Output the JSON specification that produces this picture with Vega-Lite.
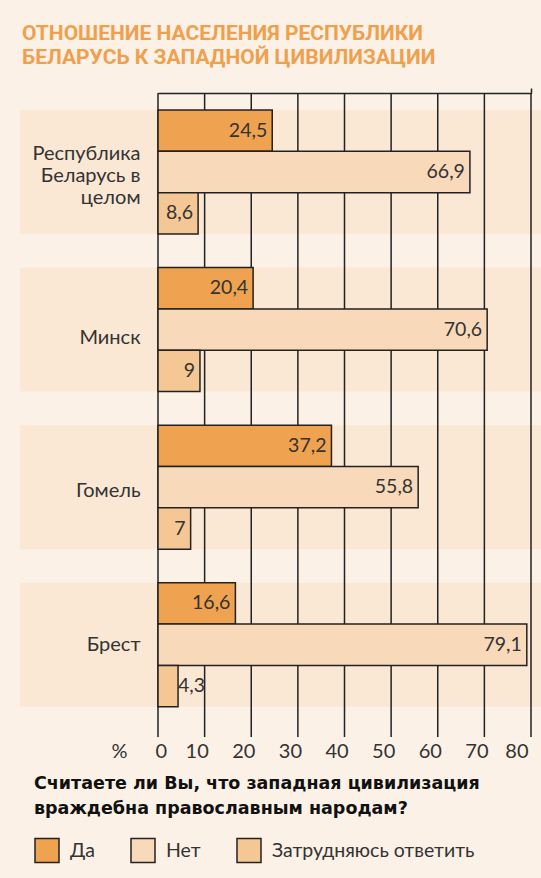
{
  "$schema": "https://vega.github.io/schema/vega-lite/v6.json",
  "width": 373,
  "height": 644,
  "autosize": {"type": "none"},
  "padding": {"left": 158, "top": 93, "right": 10, "bottom": 141},
  "background": "#FCF1E6",
  "title": {
    "text": ["ОТНОШЕНИЕ НАСЕЛЕНИЯ РЕСПУБЛИКИ", "БЕЛАРУСЬ К ЗАПАДНОЙ ЦИВИЛИЗАЦИИ"],
    "anchor": "start",
    "frame": "group",
    "dx": -136,
    "offset": 19,
    "font": "Roboto",
    "fontSize": 21,
    "fontWeight": "bold",
    "color": "#EFA04E",
    "lineHeight": 24
  },
  "config": {
    "locale": {"number": {"decimal": ",", "thousands": "\u00a0", "grouping": [3], "currency": ["", ""]}},
    "view": {"stroke": null},
    "font": "Lato",
    "axis": {"labelFont": "Lato", "titleFont": "Lato"},
    "legend": {"labelFont": "Lato", "titleFont": "DejaVu Sans"}
  },
  "datasets": {
    "bars": [
      {"region": "Республика Беларусь в целом", "answer": "Да", "v": 24.5},
      {"region": "Республика Беларусь в целом", "answer": "Нет", "v": 66.9},
      {"region": "Республика Беларусь в целом", "answer": "Затрудняюсь ответить", "v": 8.6},
      {"region": "Минск", "answer": "Да", "v": 20.4},
      {"region": "Минск", "answer": "Нет", "v": 70.6},
      {"region": "Минск", "answer": "Затрудняюсь ответить", "v": 9},
      {"region": "Гомель", "answer": "Да", "v": 37.2},
      {"region": "Гомель", "answer": "Нет", "v": 55.8},
      {"region": "Гомель", "answer": "Затрудняюсь ответить", "v": 7},
      {"region": "Брест", "answer": "Да", "v": 16.6},
      {"region": "Брест", "answer": "Нет", "v": 79.1},
      {"region": "Брест", "answer": "Затрудняюсь ответить", "v": 4.3}
    ],
    "regions": [
      {"region": "Республика Беларусь в целом"},
      {"region": "Минск"},
      {"region": "Гомель"},
      {"region": "Брест"}
    ],
    "ticks": [{"t": 0}, {"t": 10}, {"t": 20}, {"t": 30}, {"t": 40}, {"t": 50}, {"t": 60}, {"t": 70}, {"t": 80}]
  },
  "layer": [
    {
      "data": {"name": "regions"},
      "mark": {"type": "rect", "color": "#FAE7D4", "clip": false},
      "encoding": {
        "x": {
          "datum": -29.6,
          "type": "quantitative",
          "scale": {"domain": [0, 80], "nice": false},
          "axis": {
            "orient": "top",
            "values": [80],
            "labels": false,
            "grid": false,
            "domain": true,
            "domainColor": "#222222",
            "domainWidth": 1.5,
            "ticks": true,
            "tickSize": 5,
            "tickColor": "#222222",
            "tickWidth": 1.5,
            "title": null
          }
        },
        "x2": {"datum": 83},
        "y": {
          "field": "region",
          "type": "nominal",
          "scale": {"domain": ["Республика Беларусь в целом", "Минск", "Гомель", "Брест"], "paddingInner": 0.213, "paddingOuter": 0.15, "align": 0.36},
          "axis": {
            "title": null,
            "domain": false,
            "ticks": false,
            "labelPadding": 18,
            "labelFontSize": 20,
            "labelColor": "#333333",
            "labelLimit": 200,
            "labelLineHeight": 22,
            "labelOffset": {
              "condition": [
                {"test": "datum.value == 'Республика Беларусь в целом'", "value": -18},
                {"test": "datum.value == 'Минск'", "value": 8},
                {"test": "datum.value == 'Гомель'", "value": 4}
              ],
              "value": 0
            },
            "labelExpr": "datum.label == 'Республика Беларусь в целом' ? ['Республика', 'Беларусь в', 'целом'] : datum.label"
          }
        }
      }
    },
    {
      "data": {"name": "ticks"},
      "mark": {"type": "rule", "color": "#222222", "strokeWidth": 1.5},
      "encoding": {
        "x": {"field": "t", "type": "quantitative", "axis": null}
      }
    },
    {
      "data": {"name": "bars"},
      "mark": {"type": "bar", "stroke": "#222222", "strokeWidth": 1.5, "opacity": 1},
      "encoding": {
        "x": {
          "field": "v",
          "type": "quantitative",
          "axis": {
            "orient": "bottom",
            "values": [0, 10, 20, 30, 40, 50, 60, 70, 80],
            "grid": false,
            "domain": false,
            "ticks": false,
            "labelPadding": 4,
            "labelFontSize": 20,
            "labelColor": "#333333",
            "labelOffset": {"condition": {"test": "datum.value == 0 || datum.value == 80", "value": -3}, "value": -8},
            "title": "%",
            "titleFontSize": 20,
            "titleFontWeight": "normal",
            "titleColor": "#333333",
            "titleAngle": 0,
            "titleX": -39,
            "titleY": 4,
            "titleBaseline": "top",
            "titleAlign": "center"
          }
        },
        "y": {"field": "region", "type": "nominal"},
        "yOffset": {
          "field": "answer",
          "type": "nominal",
          "scale": {"domain": ["Да", "Нет", "Затрудняюсь ответить"], "paddingInner": 0, "paddingOuter": 0}
        },
        "color": {
          "field": "answer",
          "type": "nominal",
          "scale": {"domain": ["Да", "Нет", "Затрудняюсь ответить"], "range": ["#EFA24F", "#F8DABB", "#F4C795"]},
          "legend": {
            "orient": "none",
            "direction": "horizontal",
            "legendX": -124,
            "legendY": 682,
            "title": ["Считаете ли Вы, что западная цивилизация", "враждебна православным народам?"],
            "titleFontSize": 17.5,
            "titleFontWeight": "bold",
            "titleColor": "#111111",
            "titleLineHeight": 25,
            "titlePadding": 20,
            "titleLimit": 520,
            "titleAnchor": "start",
            "labelFontSize": 19.5,
            "labelColor": "#333333",
            "labelOffset": 10,
            "labelLimit": 300,
            "symbolType": "square",
            "symbolSize": 576,
            "symbolStrokeColor": "#222222",
            "symbolStrokeWidth": 1.5,
            "symbolOpacity": 1,
            "columnPadding": 33
          }
        }
      }
    },
    {
      "data": {"name": "bars"},
      "transform": [{"filter": "datum.v >= 5"}],
      "mark": {"type": "text", "align": "right", "baseline": "middle", "dx": -5, "fontSize": 19.5, "color": "#333333"},
      "encoding": {
        "x": {"field": "v", "type": "quantitative", "axis": null},
        "y": {"field": "region", "type": "nominal"},
        "yOffset": {"field": "answer", "type": "nominal"},
        "text": {"field": "v", "type": "quantitative", "format": "~g"}
      }
    },
    {
      "data": {"name": "bars"},
      "transform": [{"filter": "datum.v < 5"}],
      "mark": {"type": "text", "align": "left", "baseline": "middle", "dx": 0, "fontSize": 19.5, "color": "#333333"},
      "encoding": {
        "x": {"field": "v", "type": "quantitative", "axis": null},
        "y": {"field": "region", "type": "nominal"},
        "yOffset": {"field": "answer", "type": "nominal"},
        "text": {"field": "v", "type": "quantitative", "format": "~g"}
      }
    }
  ]
}
